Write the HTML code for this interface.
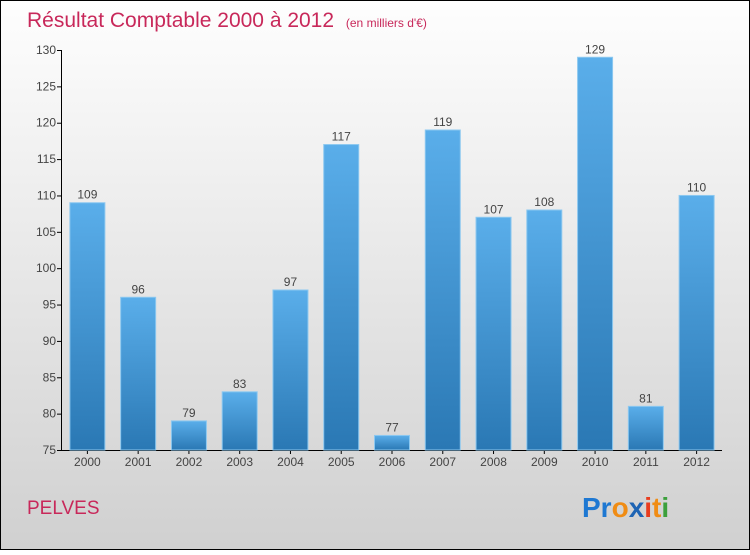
<!DOCTYPE html>
<html><head><meta charset="utf-8"><style>
body{margin:0;width:750px;height:550px;overflow:hidden;font-family:"Liberation Sans",sans-serif}
</style></head><body>
<svg width="750" height="550" xmlns="http://www.w3.org/2000/svg">
<defs>
<linearGradient id="bg" x1="0" y1="0" x2="0" y2="1"><stop offset="0" stop-color="#fefefe"/><stop offset="1" stop-color="#d0d0d0"/></linearGradient>
<linearGradient id="bar" x1="0" y1="0" x2="0" y2="1"><stop offset="0" stop-color="#5aaeea"/><stop offset="1" stop-color="#2a78b4"/></linearGradient>
</defs>
<rect x="0.5" y="0.5" width="749" height="549" fill="url(#bg)" stroke="#000"/>
<text x="27" y="27" font-size="21" fill="#c8285a">Résultat Comptable 2000 à 2012 <tspan font-size="12" dx="6">(en milliers d'€)</tspan></text>
<g id="axes"></g><g id="bars"></g>
<text x="27" y="514" font-size="19" fill="#c8285a">PELVES</text>
<text x="582" y="517" font-size="28" font-weight="bold"><tspan fill="#1e78d2">Pr</tspan><tspan fill="#f08c14">o</tspan><tspan fill="#1e64b4">x</tspan><tspan fill="#e83c1e">i</tspan><tspan fill="#f08c14">t</tspan><tspan fill="#3ca03c">i</tspan></text>
</svg>
<script>
const years=["2000","2001","2002","2003","2004","2005","2006","2007","2008","2009","2010","2011","2012"];
const values=[109,96,79,83,97,117,77,119,107,108,129,81,110];
const ticks=[75,80,85,90,95,100,105,110,115,120,125,130];
const NS="http://www.w3.org/2000/svg";
const x0=62,x1=722,yTop=50,yBot=450,vMin=75,vMax=130;
const y=v=>yBot-(v-vMin)/(vMax-vMin)*(yBot-yTop);
const step=(x1-x0)/years.length;
const ax=document.getElementById('axes'),bg=document.getElementById('bars');
function mk(t,a,p){const e=document.createElementNS(NS,t);for(const k in a)e.setAttribute(k,a[k]);p.appendChild(e);return e;}
let l=mk('line',{x1:61.5,y1:yTop,x2:61.5,y2:yBot,stroke:'#000'},ax);


l=mk('line',{x1:61,y1:450.5,x2:x1,y2:450.5,stroke:'#000'},ax);


ticks.forEach(t=>{
 const tk=mk('line',{x1:57,x2:61,y1:y(t)+0.5,y2:y(t)+0.5,stroke:'#000'},ax);
 
 
 const tx=mk('text',{x:56,y:y(t)+4,'font-size':12,fill:'#444','text-anchor':'end'},ax);
 tx.textContent=t;
 
 
});
years.forEach((yr,i)=>{
 const cx=x0+step*(i+0.5),w=35;
 const r=mk('rect',{x:cx-w/2,y:y(values[i]),width:w,height:yBot-y(values[i]),fill:'url(#bar)',stroke:'#8cc8f0','stroke-width':1},bg);
 
 
 const v=mk('text',{x:cx,y:y(values[i])-4,'font-size':12,fill:'#444','text-anchor':'middle'},bg);
 v.textContent=values[i];
 
 
 const tk=mk('line',{x1:cx,x2:cx,y1:450,y2:454,stroke:'#000'},ax);
 
 
 const t=mk('text',{x:cx,y:466,'font-size':12,fill:'#444','text-anchor':'middle'},ax);
 t.textContent=yr;
 
 
});
</script>
</body></html>
